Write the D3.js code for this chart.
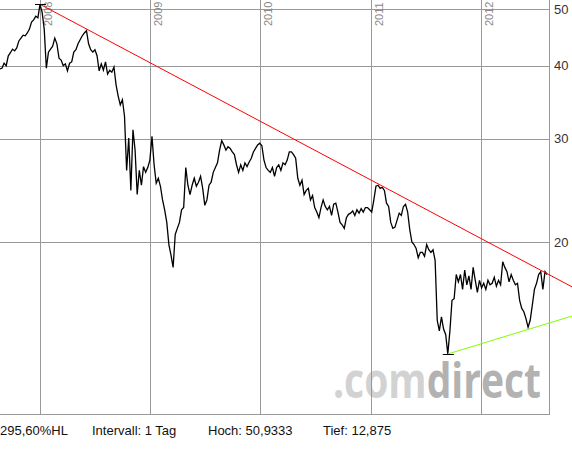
<!DOCTYPE html>
<html lang="de">
<head>
  <meta charset="UTF-8">
  <title>Chart</title>
  <script src="https://cdnjs.cloudflare.com/ajax/libs/d3/7.8.5/d3.min.js"></script>
  <style>
    body { margin: 0; background: #fff; }
    svg { display: block; font-family: "Liberation Sans", Arial, sans-serif; }
    .grid line { stroke: #999; stroke-width: 1; shape-rendering: crispEdges; }
    .ylab { font-size: 13px; fill: #333; }
    .year { font-size: 11px; fill: #888; }
    .foot { font-size: 13px; fill: #111; }
  </style>
</head>
<body>
  <svg width="572" height="449"></svg>
  <script>
    // weekly closes, first one in the week of 20.08.2007
    const startDate = "2007-08-20"
    const closes = [
      39.5, 39.6, 40.4, 40.0, 41.6, 42.1, 42.7, 42.4, 42.9, 44.1,
      44.6, 45.1, 45.0, 45.5, 46.2, 47.5, 47.9, 48.6, 48.3, 50.9,
      49.4, 46.2, 39.6, 42.2, 42.7, 43.2, 44.6, 43.6, 41.2, 40.9,
      40.0, 40.3, 39.2, 40.4, 40.6, 42.2, 42.6, 43.6, 44.3, 45.0,
      45.5, 45.9, 43.6, 42.6, 42.2, 42.6, 41.6, 39.2, 40.3, 39.3,
      40.6, 38.7, 39.3, 39.0, 39.8, 37.1, 35.5, 34.3, 35.0, 32.8,
      26.5, 30.1, 24.5, 31.1, 28.7, 24.1, 26.5, 25.0, 26.9, 26.3,
      26.8, 27.6, 30.3, 27.1, 25.2, 25.7, 24.9, 23.6, 22.7, 21.6,
      19.8, 19.0, 18.1, 20.6, 21.1, 21.6, 22.7, 22.9, 26.8, 25.0,
      24.1, 25.0, 25.7, 24.9, 25.3, 25.9, 24.7, 23.1, 23.6, 25.0,
      25.3, 26.3, 26.8, 27.3, 28.7, 29.8, 29.3, 28.7, 29.1, 28.9,
      28.5, 28.2, 27.1, 26.3, 27.1, 26.5, 27.3, 26.9, 27.4, 27.8,
      28.5, 28.9, 29.3, 29.5, 29.2, 27.6, 26.8, 26.5, 26.3, 26.8,
      25.9, 26.8, 27.1, 26.5, 27.3, 27.1, 27.6, 28.5, 28.5, 28.2,
      27.8, 25.7, 25.0, 25.5, 24.1, 24.5, 24.7, 23.6, 24.0, 22.9,
      22.5, 22.0, 22.9, 23.6, 23.0, 22.7, 23.0, 22.2, 23.2, 23.3,
      22.5, 21.6, 21.4, 21.1, 22.0, 22.3, 22.4, 22.6, 22.2, 22.7,
      22.4, 22.8, 22.5, 22.9, 22.9, 22.7, 22.5, 23.6, 24.9, 25.0,
      24.7, 24.8, 24.5, 23.3, 23.0, 21.6, 21.1, 21.2, 21.8, 22.4,
      22.2, 23.0, 23.2, 22.5, 21.0, 20.0, 19.8, 19.5, 18.8, 19.2,
      19.2, 18.9, 19.8, 19.4, 19.2, 19.4, 18.6, 14.7, 14.1, 14.9,
      14.2, 13.9, 12.875, 14.1, 15.9, 16.0, 17.6, 17.1, 17.6, 16.6,
      17.9, 16.9, 17.5, 16.6, 18.1, 17.2, 16.4, 17.2, 16.7, 17.0,
      16.6, 17.2, 16.9, 17.0, 17.4, 16.8, 17.2, 16.9, 18.5, 18.1,
      17.8, 17.1, 17.6, 17.2, 16.9, 17.0, 15.9, 15.4, 15.2, 14.8,
      14.3, 14.7, 15.6, 16.6, 17.0, 17.6, 17.8, 16.6, 17.8, 17.6
    ]

    const yTicks = [20, 30, 40, 50]
    const years = [2008, 2009, 2010, 2011, 2012]

    // Trendlinien [datum, kurs]
    const redTrend = [["2007-12-31", 50.9333], ["2012-10-28", 16.76]]
    const greenTrend = [["2011-09-12", 12.875], ["2012-10-28", 14.95]]
    const highPoint = ["2007-12-31", 50.9333]
    const lowPoint = ["2011-09-12", 12.875]

    const footLabels = ["295,60%HL", "Intervall: 1 Tag", "Hoch: 50,9333", "Tief: 12,875"]
    const footX = [0, 92, 208, 323]

    const parse = d3.timeParse("%Y-%m-%d")
    const W = 549, H = 414

    const x = d3.scaleTime()
      .domain([new Date(2008, 0, 1), new Date(2012, 0, 1)])
      .range([40.3, 481.3])
    const y = d3.scaleLog()
      .domain([10.168, 51.8])
      .range([H, 0])

    const t0 = parse(startDate)
    const series = closes.map((v, i) => ({ date: d3.timeDay.offset(t0, i * 7), value: v }))

    const svg = d3.select("svg")

    // Wasserzeichen
    const wm = svg.append("text")
      .attr("x", 333).attr("y", 398)
      .attr("textLength", 208).attr("lengthAdjust", "spacingAndGlyphs")
      .style("font-family", "'Open Sans', sans-serif").style("font-weight", 700)
      .style("font-size", "48px")
    wm.append("tspan").style("fill", "#d2d2d2").text(".com")
    wm.append("tspan").style("fill", "#b2b2b2").text("direct")

    const grid = svg.append("g").attr("class", "grid")
    grid.selectAll(".h").data(yTicks).join("line")
      .attr("x1", 0).attr("x2", W)
      .attr("y1", d => Math.round(y(d)) + 0.5).attr("y2", d => Math.round(y(d)) + 0.5)
    grid.selectAll(".v").data(years).join("line")
      .attr("x1", d => Math.floor(x(new Date(d, 0, 1))) + 0.5)
      .attr("x2", d => Math.floor(x(new Date(d, 0, 1))) + 0.5)
      .attr("y1", 0).attr("y2", H)
    grid.append("line").attr("x1", W + 0.5).attr("x2", W + 0.5).attr("y1", 0).attr("y2", H + 0.5)
    grid.append("line").attr("x1", 0).attr("x2", W + 0.5).attr("y1", H + 0.5).attr("y2", H + 0.5)

    svg.selectAll(".ylab").data(yTicks).join("text")
      .attr("class", "ylab")
      .attr("x", 554).attr("y", d => y(d)).attr("dy", "0.35em")
      .text(d => d)

    svg.selectAll(".year").data(years).join("text")
      .attr("class", "year")
      .attr("transform", d => `translate(${Math.floor(x(new Date(d, 0, 1))) + 12},26) rotate(-90)`)
      .text(d => d)

    // Kurs
    const line = d3.line().x(d => x(d.date)).y(d => y(d.value))
    svg.append("path")
      .datum(series)
      .attr("fill", "none")
      .attr("stroke", "#000")
      .attr("stroke-width", 1.3)
      .attr("d", line)

    // Trendlinien
    const tline = d3.line().x(d => x(parse(d[0]))).y(d => y(d[1]))
    svg.append("path").attr("d", tline(redTrend)).attr("stroke", "#ff0000").attr("fill", "none")
    svg.append("path").attr("d", tline(greenTrend)).attr("stroke", "#80ff00").attr("fill", "none")

    // Hoch/Tief-Markierung
    svg.selectAll(".mark").data([highPoint, lowPoint]).join("line")
      .attr("x1", d => x(parse(d[0])) - 5).attr("x2", d => x(parse(d[0])) + 6)
      .attr("y1", d => Math.round(y(d[1])) + 0.5).attr("y2", d => Math.round(y(d[1])) + 0.5)
      .attr("stroke", "#000")

    svg.selectAll(".foot").data(footLabels).join("text")
      .attr("class", "foot")
      .attr("x", (d, i) => footX[i]).attr("y", 435)
      .text(d => d)
  </script>
</body>
</html>
